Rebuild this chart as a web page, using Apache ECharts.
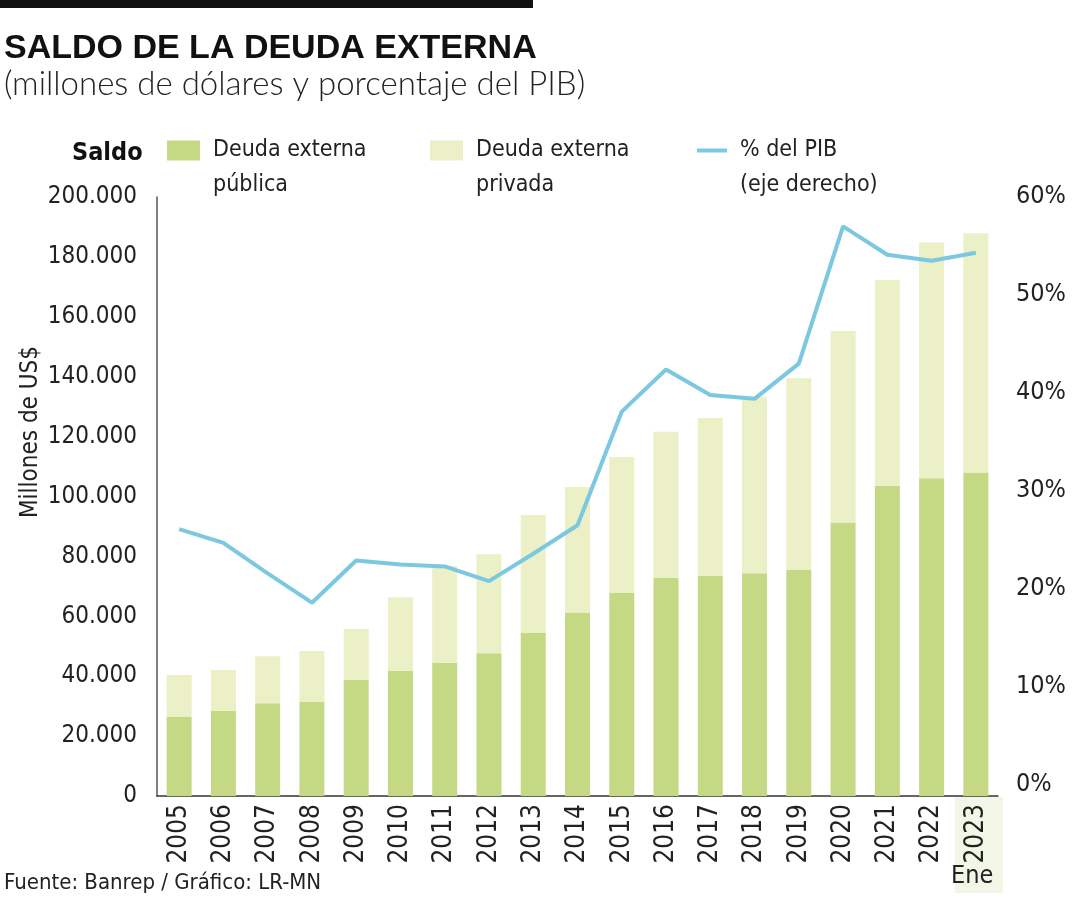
<!DOCTYPE html>
<html><head><meta charset="utf-8">
<script src="https://cdn.jsdelivr.net/npm/echarts@6/dist/echarts.min.js"></script>
<style>html,body{margin:0;padding:0;background:#fff}#c{width:1080px;height:900px}</style>
</head><body><div id="c"></div>
<script>
const years = ['2005','2006','2007','2008','2009','2010','2011','2012','2013','2014','2015','2016','2017','2018','2019','2020','2021','2022','2023'];
const publica = [26400, 28400, 31000, 31400, 38700, 41700, 44400, 47700, 54400, 61300, 67800, 72800, 73500, 74400, 75500, 91300, 103600, 106100, 108000];
const privada = [14000, 13700, 15700, 17000, 17100, 24700, 32400, 33000, 39400, 41900, 45400, 48800, 52700, 58900, 64000, 64000, 68700, 78700, 79900];
const pib = [26.0, 24.6, 21.5, 18.5, 22.8, 22.4, 22.2, 20.7, 23.5, 26.4, 38.0, 42.3, 39.7, 39.3, 42.9, 56.9, 54.0, 53.4, 54.2];
const leftTicks = [0, 200000, 20000];
const rightTicks = [0, 60, 10];

const NARROW = "'Liberation Sans Narrow','DejaVu Sans Condensed',sans-serif";
const C_PUB = '#c5d985', C_PRIV = '#ebf0c6', C_LINE = '#7bc8e0';
const chart = echarts.init(document.getElementById('c'), null, {renderer:'canvas'});
const fmt = v => String(v).replace(/\B(?=(\d{3})+(?!\d))/g, '.');
const legendText = {fontFamily: NARROW, fontSize: 23, color: '#222', lineHeight: 35, padding:[0,0,0,8]};
const legFmt = name => ' \n' + name;
chart.setOption({
  animation:false,
  backgroundColor:'#fff',
  graphic:[
    {type:'rect', shape:{x:0,y:0,width:533,height:8}, style:{fill:'#111'}},
    {type:'text', left:4, top:32, style:{text:'SALDO DE LA DEUDA EXTERNA', font:"bold 34px 'Liberation Sans',sans-serif", fill:'#111'}},
    {type:'text', left:4, top:68, style:{text:'(millones de dólares y porcentaje del PIB)', font:"300 33px Lato,sans-serif", fill:'#222'}},
    {type:'text', left:72, top:141, style:{text:'Saldo', font:"bold 25px "+NARROW, fill:'#111'}},
    {type:'text', x:31, y:432, rotation:Math.PI/2, style:{text:'Millones de US$', font:"24px "+NARROW, fill:'#222', align:'center', verticalAlign:'middle'}},
    {type:'rect', z:-1, shape:{x:955,y:797,width:48,height:96}, style:{fill:'#f1f6e6'}},
    {type:'text', left:951, top:864, style:{text:'Ene', font:"25px "+NARROW, fill:'#222'}},
    {type:'text', left:4, top:872, style:{text:'Fuente: Banrep / Gráfico: LR-MN', font:"22px "+NARROW, fill:'#222'}}
  ],
  legend:[
    {left:167, top:98, padding:0, itemWidth:33, itemHeight:20, formatter:legFmt, data:[{name:'Deuda externa\npública', icon:'rect'}], textStyle:legendText, selectedMode:false},
    {left:430, top:98, padding:0, itemWidth:33, itemHeight:20, formatter:legFmt, data:[{name:'Deuda externa\nprivada', icon:'rect'}], textStyle:legendText, selectedMode:false},
    {left:697, top:98, padding:0, itemWidth:30, itemHeight:4, formatter:legFmt, data:[{name:'% del PIB\n(eje derecho)', icon:'rect', itemStyle:{color:C_LINE}}], textStyle:legendText, selectedMode:false}
  ],
  grid:[
    {left:157, right:82, top:197, bottom:104, outerBoundsMode:'none', containLabel:false},
    {left:157, right:82, top:196, bottom:116, outerBoundsMode:'none', containLabel:false}
  ],
  xAxis:[
    {type:'category', gridIndex:0, data:years, boundaryGap:true,
     axisLine:{show:true, lineStyle:{color:'#333', width:1.5}}, axisTick:{show:false},
     axisLabel:{rotate:90, margin:8, fontFamily:NARROW, fontSize:26, color:'#222', interval:0}},
    {type:'category', gridIndex:1, data:years, boundaryGap:true, show:false}
  ],
  yAxis:[
    {type:'value', gridIndex:0, min:leftTicks[0], max:leftTicks[1], interval:leftTicks[2],
     axisLine:{show:true, lineStyle:{color:'#555', width:1.5}}, axisTick:{show:false}, splitLine:{show:false},
     axisLabel:{formatter:fmt, margin:20, fontFamily:NARROW, fontSize:24, color:'#222'}},
    {type:'value', gridIndex:1, position:'right', min:rightTicks[0], max:rightTicks[1], interval:rightTicks[2],
     axisLine:{show:false}, axisTick:{show:false}, splitLine:{show:false},
     axisLabel:{formatter:'{value}%', margin:18, fontFamily:NARROW, fontSize:25, color:'#222'}}
  ],
  series:[
    {name:'Deuda externa\npública', type:'bar', stack:'d', xAxisIndex:0, yAxisIndex:0, data:publica, barWidth:25, itemStyle:{color:C_PUB}},
    {name:'Deuda externa\nprivada', type:'bar', stack:'d', xAxisIndex:0, yAxisIndex:0, data:privada, barWidth:25, itemStyle:{color:C_PRIV}},
    {name:'% del PIB\n(eje derecho)', type:'line', xAxisIndex:1, yAxisIndex:1, data:pib, symbol:'none', z:5,
     lineStyle:{color:C_LINE, width:4}, itemStyle:{color:C_LINE}}
  ]
});
</script></body></html>
